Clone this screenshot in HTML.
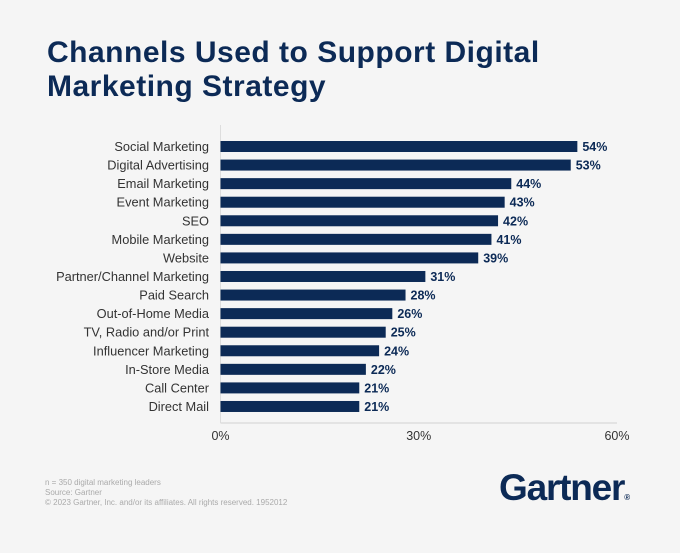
<!DOCTYPE html>
<html><head><meta charset="utf-8"><style>
body{margin:0;background:#f5f5f5;width:680px;height:553px;overflow:hidden;font-family:"Liberation Sans",sans-serif}
.title{position:absolute;left:47px;top:36px;font-size:30px;font-weight:bold;color:#0c2a56;line-height:34px;letter-spacing:0.5px}
.foot{position:absolute;left:45px;top:478px;font-size:8px;color:#aaa;line-height:10px}
.logo{position:absolute;left:499px;top:467px;font-size:37px;font-weight:bold;color:#0c2a56;letter-spacing:-1.2px}
</style></head><body>
<div class="title">Channels Used to Support Digital<br>Marketing Strategy</div>
<svg id="chart" width="680" height="553" style="position:absolute;left:0;top:0"></svg>
<div class="foot">n = 350 digital marketing leaders<br>Source: Gartner<br>© 2023 Gartner, Inc. and/or its affiliates. All rights reserved. 1952012</div>
<div class="logo">Gartner<span style="font-size:8px">®</span></div>
<script>
const categories=["Social Marketing","Digital Advertising","Email Marketing","Event Marketing","SEO","Mobile Marketing","Website","Partner/Channel Marketing","Paid Search","Out-of-Home Media","TV, Radio and/or Print","Influencer Marketing","In-Store Media","Call Center","Direct Mail"];
const values=[54,53,44,43,42,41,39,31,28,26,25,24,22,21,21];
const ticks=[0,30,60];
const NS="http://www.w3.org/2000/svg";
const svg=document.getElementById('chart');
const x0=220.5,x1=617,xMax=60;
const x=v=>x0+(x1-x0)*v/xMax;
const yTop=141,step=18.57,bh=11;
const y=i=>yTop+i*step;
function mk(t,a){const e=document.createElementNS(NS,t);for(const k in a)e.setAttribute(k,a[k]);svg.appendChild(e);return e;}
const ax=mk('line',{x1:x0,x2:x0,y1:125,y2:423,stroke:'#ddd','stroke-width':1});


const bx=mk('line',{x1:x0,x2:x1,y1:423,y2:423,stroke:'#ddd','stroke-width':1.5});


categories.forEach((c,i)=>{
 const r=mk('rect',{x:x0,y:y(i),width:x(values[i])-x0,height:bh,fill:'#0c2a56'});
 
 
 const l=mk('text',{x:209,y:y(i)+bh/2+4.5,'text-anchor':'end','font-size':12.8,fill:'#333'});
 l.textContent=c;
 
 
 const v=mk('text',{x:x(values[i])+5,y:y(i)+bh/2+4.5,'font-size':12.5,'font-weight':'bold',fill:'#0c2a56'});
 v.textContent=values[i]+'%';
 
 
});
ticks.forEach(t=>{
 const tl=mk('text',{x:x(t),y:440,'text-anchor':'middle','font-size':12.5,fill:'#333'});
 tl.textContent=t+'%';
 
 
});
</script>
</body></html>
